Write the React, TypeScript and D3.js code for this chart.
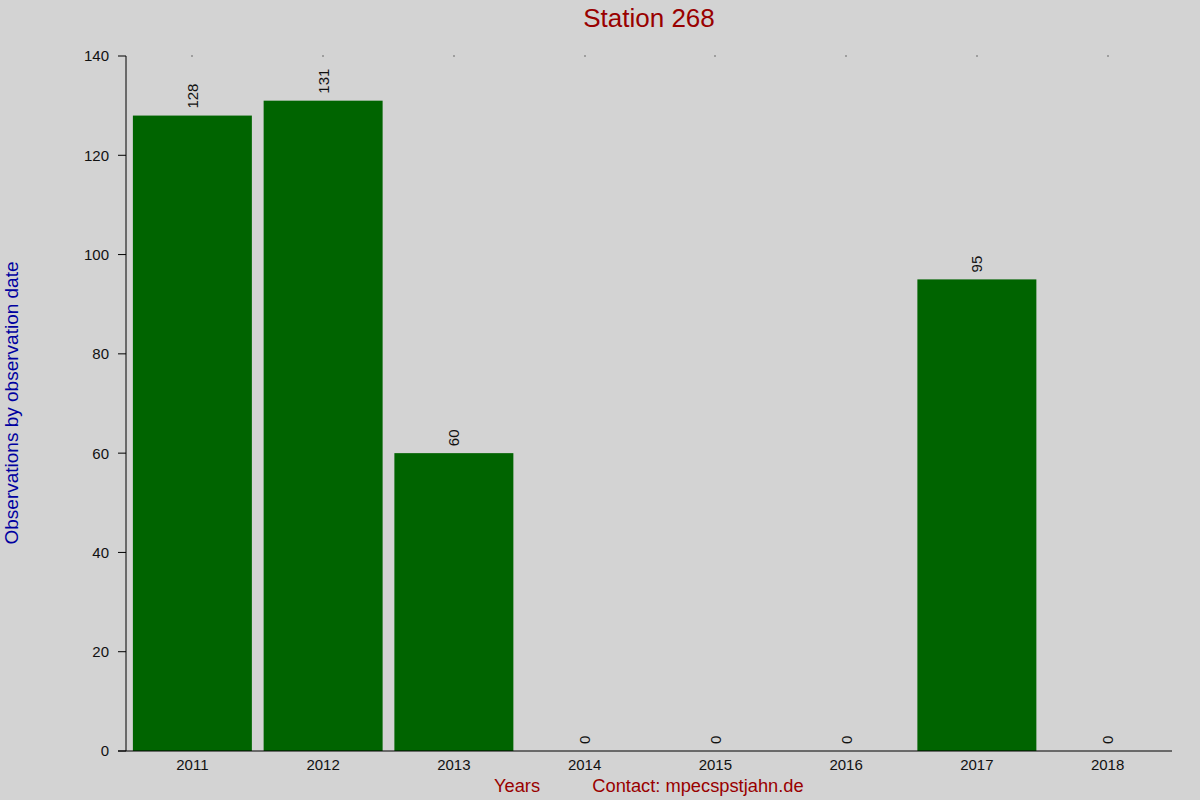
import { useEffect, useRef } from 'react'
import * as d3 from 'd3'

const years = ['2011', '2012', '2013', '2014', '2015', '2016', '2017', '2018']
const counts = [128, 131, 60, 0, 0, 0, 95, 0]
const yTicks = [0, 20, 40, 60, 80, 100, 120, 140]

const width = 1200
const height = 800

export default function App() {
  const svgRef = useRef<SVGSVGElement>(null)

  useEffect(() => {
    if (!svgRef.current) return
    const svg = d3.select(svgRef.current)
    svg.selectAll('*').remove()

    const font = 'Liberation Sans, Arial, sans-serif'
    const left = 126
    const right = 1172
    const top = 56
    const bottom = 751

    svg.append('rect')
      .attr('width', width)
      .attr('height', height)
      .attr('fill', '#d3d3d3')

    const x = d3.scaleBand<string>()
      .domain(years)
      .range([left + 1, right + 1])
      .paddingInner(0.09)
      .paddingOuter(0.045)

    const y = d3.scaleLinear()
      .domain([0, 140])
      .range([bottom, top])

    // Bars
    svg.append('g')
      .selectAll('rect')
      .data(counts)
      .join('rect')
      .attr('x', (_, i) => x(years[i])!)
      .attr('width', x.bandwidth())
      .attr('y', (d) => y(d))
      .attr('height', (d) => y(0) - y(d))
      .attr('fill', '#006400')

    // Value labels, rotated
    svg.append('g')
      .selectAll('text')
      .data(counts)
      .join('text')
      .attr('transform', (d, i) => {
        const cx = x(years[i])! + x.bandwidth() / 2
        return `translate(${cx + 5.5}, ${y(d) - 7}) rotate(-90)`
      })
      .attr('text-anchor', 'start')
      .attr('font-family', font)
      .attr('font-size', 15)
      .attr('fill', '#111')
      .text((d) => String(d))

    // Y axis
    svg.append('line')
      .attr('x1', left).attr('x2', left)
      .attr('y1', top).attr('y2', bottom)
      .attr('stroke', '#000')
      .attr('stroke-width', 1)

    const yt = svg.append('g')
    yt.selectAll('line')
      .data(yTicks)
      .join('line')
      .attr('x1', 118).attr('x2', left)
      .attr('y1', (d) => y(d)).attr('y2', (d) => y(d))
      .attr('stroke', '#000')
    yt.selectAll('text')
      .data(yTicks)
      .join('text')
      .attr('x', 109)
      .attr('y', (d) => y(d))
      .attr('dy', '0.36em')
      .attr('text-anchor', 'end')
      .attr('font-family', font)
      .attr('font-size', 15)
      .attr('fill', '#111')
      .text((d) => String(d))

    // X axis
    svg.append('line')
      .attr('x1', 118).attr('x2', right)
      .attr('y1', bottom).attr('y2', bottom)
      .attr('stroke', '#000')

    svg.append('g')
      .selectAll('text')
      .data(years)
      .join('text')
      .attr('x', (d) => x(d)! + x.bandwidth() / 2)
      .attr('y', 770)
      .attr('text-anchor', 'middle')
      .attr('font-family', font)
      .attr('font-size', 15)
      .attr('fill', '#111')
      .text((d) => d)

    // small top markers
    svg.append('g')
      .selectAll('rect')
      .data(years)
      .join('rect')
      .attr('x', (d) => Math.round(x(d)! + x.bandwidth() / 2) - 0.5)
      .attr('y', top - 0.5)
      .attr('width', 1)
      .attr('height', 1)
      .attr('fill', '#000')

    // Title
    svg.append('text')
      .attr('x', 649)
      .attr('y', 27)
      .attr('text-anchor', 'middle')
      .attr('font-family', font)
      .attr('font-size', 26)
      .attr('fill', '#990000')
      .text('Station 268')

    // Y label
    svg.append('text')
      .attr('transform', `translate(18, 403) rotate(-90)`)
      .attr('text-anchor', 'middle')
      .attr('font-family', font)
      .attr('font-size', 19)
      .attr('fill', '#0000a0')
      .text('Observations by observation date')

    // Bottom labels
    svg.append('text')
      .attr('x', 517)
      .attr('y', 792)
      .attr('text-anchor', 'middle')
      .attr('font-family', font)
      .attr('font-size', 18.3)
      .attr('fill', '#990000')
      .text('Years')

    svg.append('text')
      .attr('x', 698)
      .attr('y', 792)
      .attr('text-anchor', 'middle')
      .attr('font-family', font)
      .attr('font-size', 18.3)
      .attr('fill', '#990000')
      .text('Contact: mpecspstjahn.de')
  }, [])

  return (
    <svg
      ref={svgRef}
      width={width}
      height={height}
      style={{ position: 'absolute', left: 0, top: 0, display: 'block' }}
    />
  )
}
